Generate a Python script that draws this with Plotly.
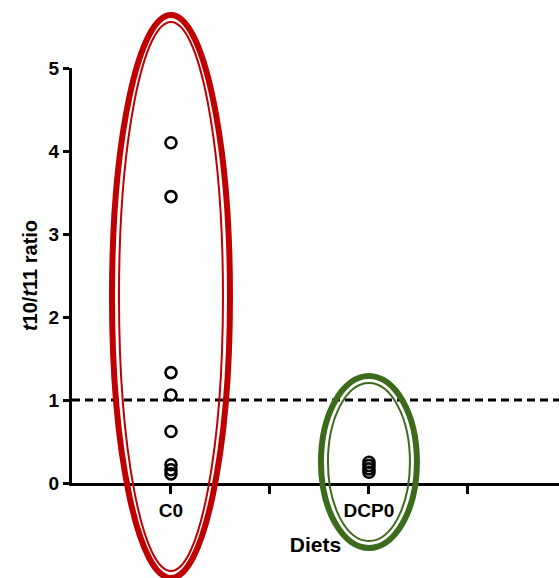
import plotly.graph_objects as go

# Data
category_positions = [0, 1, 2, 3]
tick_labels = ["C0", "", "DCP0", ""]
c0_values = [4.10, 3.45, 1.33, 1.06, 0.62, 0.22, 0.16, 0.11]
dcp0_values = [0.25, 0.21, 0.17, 0.13]
threshold = 1.0

# Layout geometry
W, H = 559, 578
ML, MR, MT, MB = 72, 0, 68, 95
XR = [-1.0, 3.92]
YR = [0, 5]
pw = W - ML - MR
ph = H - MT - MB


def px_to_paper_x(px):
    return (px - ML) / pw


def px_to_paper_y(py):
    return (H - MB - py) / ph


def data_to_px_x(x):
    return ML + (x - XR[0]) / (XR[1] - XR[0]) * pw


fig = go.Figure()
marker = dict(symbol="circle-open", size=11, color="black", line=dict(width=2.6, color="black"))
fig.add_trace(go.Scatter(x=[category_positions[0]] * len(c0_values), y=c0_values,
                         mode="markers", marker=marker, showlegend=False, cliponaxis=False))
fig.add_trace(go.Scatter(x=[category_positions[2]] * len(dcp0_values), y=dcp0_values,
                         mode="markers", marker=marker, showlegend=False, cliponaxis=False))

shapes = []
# dashed threshold line
shapes.append(dict(type="line", xref="paper", yref="y", x0=0, x1=1, y0=threshold, y1=threshold,
                   line=dict(color="black", width=2.8, dash="8px,5px"), layer="below"))


def ellipse(cx_data, half_w, top_px, bot_px, color, width):
    cx = data_to_px_x(cx_data)
    return dict(type="circle", xref="paper", yref="paper",
                x0=px_to_paper_x(cx - half_w), x1=px_to_paper_x(cx + half_w),
                y0=px_to_paper_y(bot_px), y1=px_to_paper_y(top_px),
                line=dict(color=color, width=width), layer="above")


red = "#C00000"
green = "#3D6B1C"
shapes.append(ellipse(category_positions[0], 59, 15, 578, red, 6))
shapes.append(ellipse(category_positions[0], 52, 22, 571, red, 2))
shapes.append(ellipse(category_positions[2], 48, 376, 548, green, 6))
shapes.append(ellipse(category_positions[2], 41, 383, 541, green, 2))

font = dict(family="Liberation Sans, Arial", size=18, color="black")

fig.update_layout(
    width=W, height=H,
    margin=dict(l=ML, r=MR, t=MT, b=MB),
    paper_bgcolor="white", plot_bgcolor="white",
    shapes=shapes,
    font=font,
    xaxis=dict(range=XR, tickmode="array", tickvals=category_positions,
               ticktext=["<b>%s</b>" % t if t else "" for t in tick_labels],
               tickfont=dict(size=19),
               showgrid=False, zeroline=False, showline=True, linecolor="black", linewidth=3,
               ticks="outside", ticklen=8, tickwidth=3, tickcolor="black",
               title=dict(text="<b>Diets</b>", font=dict(size=21), standoff=18)),
    yaxis=dict(range=YR, tickmode="array", tickvals=[0, 1, 2, 3, 4, 5],
               ticktext=["<b>%d</b>" % v for v in [0, 1, 2, 3, 4, 5]],
               tickfont=dict(size=19),
               showgrid=False, zeroline=False, showline=True, linecolor="black", linewidth=3,
               ticks="outside", ticklen=6, tickwidth=3, tickcolor="black",
               ticklabelstandoff=0,
               title=dict(text="<b><i>t</i>10/<i>t</i>11 ratio</b>", font=dict(size=20), standoff=6)),
)

fig.write_html("out.html")
